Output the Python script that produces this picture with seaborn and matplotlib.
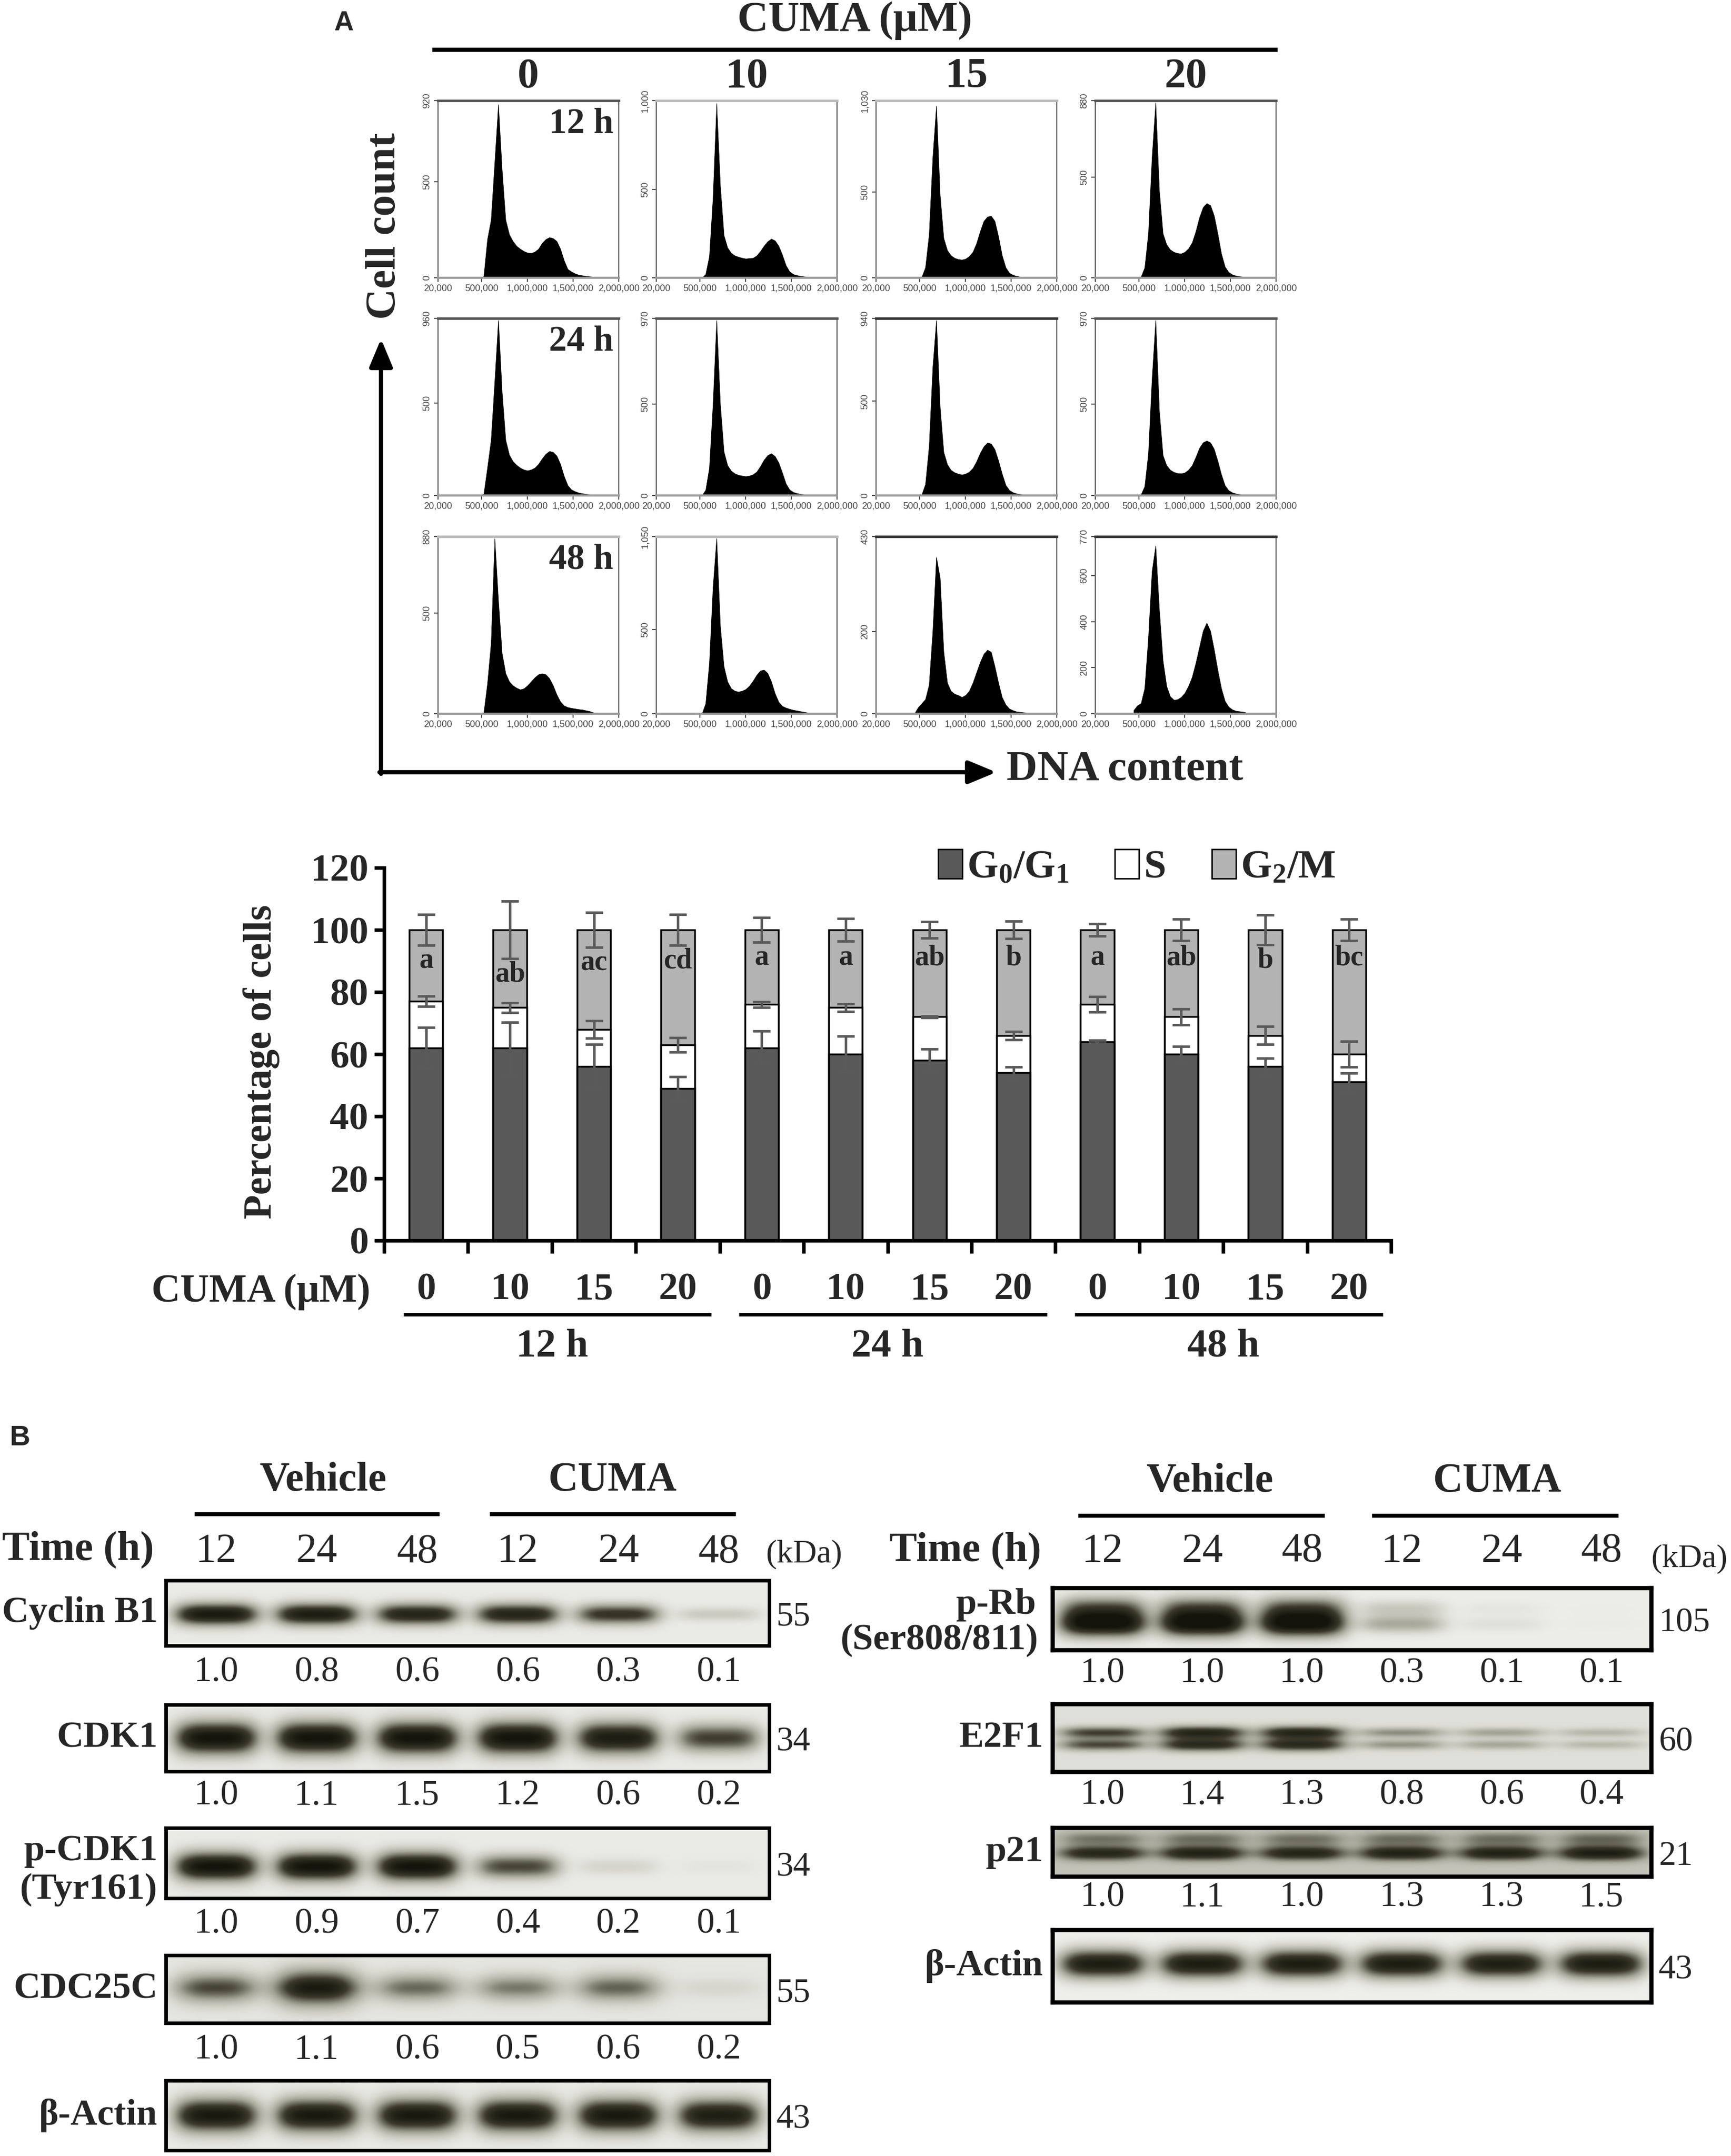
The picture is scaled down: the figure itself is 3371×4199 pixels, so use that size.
import numpy as np
import pandas as pd
import matplotlib
matplotlib.use("Agg")
import matplotlib.pyplot as plt
import matplotlib.transforms as mtransforms
from matplotlib.colors import LinearSegmentedColormap
from matplotlib.patches import Patch
import seaborn as sns

# ===================== DATA =====================
# ---- Panel A (top): DNA-content histograms ----
conc_levels = ["0", "10", "15", "20"]
hist_times = ["12 h", "24 h", "48 h"]
dna_bins = [440000, 480000, 520000, 560000, 600000, 640000, 680000, 720000,
            760000, 800000, 840000, 880000, 920000, 960000, 1000000, 1040000,
            1080000, 1120000, 1160000, 1200000, 1240000, 1280000, 1320000,
            1360000, 1400000, 1440000, 1480000, 1520000, 1560000, 1600000,
            1640000, 1680000, 1720000, 1760000, 1800000, 1840000, 1880000]

h12_c0 = [0, 0, 8, 200, 300, 600, 900, 560, 300, 225, 190, 165, 150, 138, 130, 128, 135, 150, 180, 200,
          210, 205, 190, 150, 90, 45, 32, 22, 15, 12, 9, 7, 5, 2, 0, 0, 0]
h12_c10 = [0, 0, 0, 20, 120, 450, 985, 520, 240, 170, 140, 125, 118, 112, 108, 110, 112, 125, 150, 180,
           205, 220, 210, 180, 130, 70, 35, 20, 14, 10, 7, 5, 3, 2, 0, 0, 0]
h12_c15 = [0, 0, 5, 60, 250, 700, 1000, 480, 230, 160, 130, 115, 108, 105, 110, 125, 150, 200, 270, 330,
           355, 360, 330, 240, 130, 60, 28, 16, 10, 6, 4, 3, 2, 0, 0, 0, 0]
h12_c20 = [0, 0, 5, 50, 220, 600, 870, 430, 220, 165, 140, 128, 122, 120, 128, 145, 175, 230, 300, 350,
           370, 360, 310, 220, 120, 55, 28, 16, 10, 7, 5, 3, 2, 0, 0, 0, 0]
h24_c0 = [0, 0, 8, 150, 300, 620, 950, 560, 300, 220, 185, 165, 150, 140, 135, 140, 150, 170, 200, 225,
          240, 235, 215, 170, 105, 55, 32, 22, 15, 11, 8, 6, 4, 2, 0, 0, 0]
h24_c10 = [0, 0, 0, 30, 150, 500, 960, 500, 240, 165, 135, 120, 112, 108, 105, 108, 115, 130, 160, 195,
           220, 230, 215, 180, 125, 65, 32, 18, 12, 8, 6, 4, 3, 1, 0, 0, 0]
h24_c15 = [0, 0, 5, 60, 260, 680, 930, 470, 230, 165, 135, 122, 115, 110, 115, 125, 145, 180, 225, 260,
           280, 275, 245, 185, 115, 55, 28, 16, 10, 7, 5, 3, 2, 0, 0, 0, 0]
h24_c20 = [0, 0, 5, 50, 230, 640, 960, 460, 220, 165, 140, 128, 122, 120, 125, 140, 165, 210, 260, 290,
           300, 290, 255, 190, 115, 55, 28, 16, 10, 7, 5, 3, 2, 0, 0, 0, 0]
h48_c0 = [0, 0, 5, 150, 350, 870, 560, 300, 200, 160, 140, 128, 120, 125, 140, 160, 180, 195, 200, 195,
          175, 140, 95, 60, 40, 32, 28, 25, 22, 20, 16, 12, 6, 2, 0, 0, 0]
h48_c10 = [0, 0, 0, 60, 300, 750, 1040, 520, 280, 190, 150, 135, 130, 135, 145, 165, 195, 230, 255, 260,
           240, 190, 120, 70, 45, 35, 28, 22, 18, 14, 10, 6, 3, 0, 0, 0, 0]
h48_c15 = [0, 15, 25, 35, 70, 200, 380, 330, 150, 75, 55, 48, 45, 40, 45, 55, 75, 100, 125, 145,
           155, 150, 115, 75, 40, 22, 12, 8, 5, 4, 3, 2, 0, 0, 0, 0, 0]
h48_c20 = [15, 35, 45, 110, 330, 620, 730, 450, 230, 120, 75, 60, 62, 72, 90, 120, 160, 220, 290, 360,
           395, 360, 280, 190, 110, 55, 30, 18, 12, 10, 8, 4, 2, 0, 0, 0, 0]

hist_ymax_12h = [920, 1000, 1030, 880]
hist_ymax_24h = [960, 970, 940, 970]
hist_ymax_48h = [880, 1050, 430, 770]
hist_midticks_12h = [[500], [500], [500], [500]]
hist_midticks_24h = [[500], [500], [500], [500]]
hist_midticks_48h = [[500], [500], [200], [200, 400, 600]]
hist_xticks = [20000, 500000, 1000000, 1500000, 2000000]

# ---- Panel A (bottom): cell-cycle distribution (%) ----
bar_conc = ["0", "10", "15", "20", "0", "10", "15", "20", "0", "10", "15", "20"]
bar_time_groups = ["12 h", "24 h", "48 h"]
g0g1 = [62, 62, 56, 49, 62, 60, 58, 54, 64, 60, 56, 51]
s_phase = [15, 13, 12, 14, 14, 15, 14, 12, 12, 12, 10, 9]
g2m = [23, 25, 32, 37, 24, 25, 28, 34, 24, 28, 34, 40]
err_g0g1 = [6.6, 8.3, 7.2, 3.7, 5.4, 5.8, 3.6, 1.8, 0.5, 2.5, 2.6, 2.9]
err_s = [1.7, 1.6, 2.8, 2.3, 0.9, 1.2, 0.3, 1.3, 2.5, 2.6, 2.9, 4.1]
err_g2m = [5.0, 9.3, 5.6, 5.0, 3.9, 3.6, 2.7, 2.8, 2.0, 3.5, 4.8, 3.4]
sig_letters = ["a", "ab", "ac", "cd", "a", "a", "ab", "b", "a", "ab", "b", "bc"]

# ---- Panel B: western blots ----
blot_groups = ["Vehicle", "CUMA"]
blot_times = ["12", "24", "48", "12", "24", "48"]
q_cyclinb1 = [1.0, 0.8, 0.6, 0.6, 0.3, 0.1]
q_cdk1 = [1.0, 1.1, 1.5, 1.2, 0.6, 0.2]
q_pcdk1 = [1.0, 0.9, 0.7, 0.4, 0.2, 0.1]
q_cdc25c = [1.0, 1.1, 0.6, 0.5, 0.6, 0.2]
q_prb = [1.0, 1.0, 1.0, 0.3, 0.1, 0.1]
q_e2f1 = [1.0, 1.4, 1.3, 0.8, 0.6, 0.4]
q_p21 = [1.0, 1.1, 1.0, 1.3, 1.3, 1.5]
band_cyclinb1 = [0.95, 0.92, 0.85, 0.85, 0.72, 0.15]
band_cdk1 = [1.0, 1.0, 1.0, 1.0, 0.92, 0.65]
band_pcdk1 = [1.0, 1.0, 1.0, 0.62, 0.1, 0.03]
band_cdc25c = [0.62, 0.95, 0.5, 0.45, 0.52, 0.08]
band_actin_l = [0.95, 0.95, 0.95, 0.95, 0.95, 0.9]
band_prb = [1.0, 1.0, 1.0, 0.3, 0.06, 0.01]
band_e2f1 = [0.7, 0.92, 0.92, 0.4, 0.32, 0.22]
band_p21 = [0.8, 0.85, 0.82, 0.85, 0.85, 0.9]
band_actin_r = [0.92, 0.92, 0.92, 0.92, 0.9, 0.92]
kda_left = ["55", "34", "34", "55", "43"]
kda_right = ["105", "60", "21", "43"]

# ===================== STYLE / FIGURE =====================
sns.set_theme(style="ticks")
plt.rcParams["font.family"] = ["Liberation Serif", "DejaVu Serif"]
plt.rcParams["mathtext.default"] = "regular"

W, H = 3371, 4199
fig = plt.figure(figsize=(W / 100, H / 100), dpi=100)
fig.patch.set_facecolor("white")


def rect(x, y, w, h):
    return [x / W, 1 - (y + h) / H, w / W, h / H]


ov = fig.add_axes([0, 0, 1, 1], zorder=20)
ov.set_xlim(0, W)
ov.set_ylim(H, 0)
ov.axis("off")
ov.patch.set_alpha(0)


def T(x, y, s, size, bold=True, ha="center", va="center", **kw):
    ov.text(x, y, s, fontsize=size, fontweight="bold" if bold else "normal",
            ha=ha, va=va, **kw)


def HL(x0, x1, y, lw=5.5):
    ov.plot([x0, x1], [y, y], color="black", lw=lw, solid_capstyle="butt")


# ===================== PANEL A: histograms =====================
ov.text(670, 45, "A", fontsize=38, fontweight="bold", family="Liberation Sans",
        ha="center", va="center")
T(1665, 40, "CUMA (μM)", 60)
HL(842, 2488, 97, lw=6)

col_left = [853, 1278, 1706, 2133]
row_top = [196, 620, 1045]
hist_w, hist_h = 352, 345
for c in range(4):
    T(col_left[c] + hist_w / 2, 150, conc_levels[c], 60)

hist_rows = [[h12_c0, h12_c10, h12_c15, h12_c20],
             [h24_c0, h24_c10, h24_c15, h24_c20],
             [h48_c0, h48_c10, h48_c15, h48_c20]]
ymax_rows = [hist_ymax_12h, hist_ymax_24h, hist_ymax_48h]
mid_rows = [hist_midticks_12h, hist_midticks_24h, hist_midticks_48h]
top_colors = [["#555555", "#bbbbbb", "#bbbbbb", "#555555"],
              ["#555555", "#555555", "#333333", "#555555"],
              ["#bbbbbb", "#bbbbbb", "#333333", "#333333"]]
edges = [b - 20000 for b in dna_bins] + [dna_bins[-1] + 20000]

for r in range(3):
    for c in range(4):
        ax = fig.add_axes(rect(col_left[c], row_top[r], hist_w, hist_h))
        df = pd.DataFrame({"dna": dna_bins, "count": hist_rows[r][c]})
        sns.histplot(data=df, x="dna", weights="count", bins=edges, element="poly",
                     fill=True, color="black", alpha=1.0, linewidth=0.6, ax=ax)
        ymax = ymax_rows[r][c]
        ax.set_xlim(20000, 2000000)
        ax.set_ylim(0, ymax)
        ax.set_xticks(hist_xticks)
        ax.set_xticklabels([f"{v:,}" for v in hist_xticks], family="Liberation Sans",
                           fontsize=13, color="#444444")
        yt = [0] + mid_rows[r][c] + [ymax]
        ax.set_yticks(yt)
        ax.set_yticklabels([f"{v:,}" for v in yt], rotation=90, va="center",
                           family="Liberation Sans", fontsize=13, color="#444444")
        ax.tick_params(length=6, width=1.4, color="#444444", pad=3)
        ax.set_xlabel("")
        ax.set_ylabel("")
        for side in ["left", "right"]:
            ax.spines[side].set_color("#555555")
            ax.spines[side].set_linewidth(1.5)
        ax.spines["top"].set_color(top_colors[r][c])
        ax.spines["top"].set_linewidth(3.5)
        ax.spines["bottom"].set_color("#999999")
        ax.spines["bottom"].set_linewidth(3)
        if c == 0:
            ax.text(0.97, 0.96, hist_times[r], transform=ax.transAxes, ha="right",
                    va="top", fontsize=50, fontweight="bold")

# axis arrows
arrow_kw = dict(arrowstyle="-|>,head_length=0.6,head_width=0.25", lw=6,
                color="black", mutation_scale=55, shrinkA=0, shrinkB=0)
ov.annotate("", xy=(742, 660), xytext=(742, 1507), arrowprops=arrow_kw)
ov.annotate("", xy=(1940, 1504), xytext=(739, 1504), arrowprops=arrow_kw)
T(750, 440, "Cell count", 60, rotation=90)
T(1960, 1499, "DNA content", 60, ha="left")

# ===================== PANEL A: stacked bars =====================
c_g0 = "#595959"
c_g2 = "#b3b3b3"
axb = fig.add_axes(rect(748, 1690, 1961, 726))
bdf = pd.DataFrame({"pos": list(range(12)), "g0": g0g1, "s": s_phase, "g2": g2m})
bdf["s_top"] = bdf["g0"] + bdf["s"]
bdf["total"] = bdf["s_top"] + bdf["g2"]
bar_kw = dict(x="pos", width=0.4, edgecolor="black", linewidth=2.5,
              errorbar=None, saturation=1, ax=axb)
sns.barplot(data=bdf, y="total", color=c_g2, **bar_kw)
sns.barplot(data=bdf, y="s_top", color="white", **bar_kw)
sns.barplot(data=bdf, y="g0", color=c_g0, **bar_kw)

pos = np.arange(12)
eb_kw = dict(fmt="none", ecolor="#5a5a5a", elinewidth=3.5, capsize=12,
             capthick=3.5, zorder=5)
axb.errorbar(pos, bdf["g0"], yerr=err_g0g1, **eb_kw)
axb.errorbar(pos, bdf["s_top"], yerr=err_s, **eb_kw)
axb.errorbar(pos, bdf["total"], yerr=err_g2m, **eb_kw)

for i, lab in enumerate(sig_letters):
    ypos = min(91, 100 - err_g2m[i] - 5)
    axb.text(i, ypos, lab, ha="center", va="center", fontsize=40,
             fontweight="bold", zorder=6)

axb.set_xlim(-0.5, 11.5)
axb.set_ylim(0, 120)
axb.set_xticks(range(12))
axb.set_xticklabels(bar_conc, fontsize=54, fontweight="bold")
axb.set_xticks(np.arange(-0.5, 12, 1), minor=True)
axb.tick_params(axis="x", which="major", length=0, pad=45)
axb.tick_params(axis="x", which="minor", length=18, width=5, direction="out",
                color="black")
axb.set_yticks(range(0, 121, 20))
axb.set_yticklabels([str(v) for v in range(0, 121, 20)], fontsize=54,
                    fontweight="bold")
axb.tick_params(axis="y", length=14, width=5, pad=8, color="black")
axb.set_xlabel("")
axb.set_ylabel("")
axb.spines["top"].set_visible(False)
axb.spines["right"].set_visible(False)
for side in ["left", "bottom"]:
    axb.spines[side].set_linewidth(5)
    axb.spines[side].set_color("black")

handles = [Patch(facecolor=c_g0, edgecolor="black", linewidth=2),
           Patch(facecolor="white", edgecolor="black", linewidth=2),
           Patch(facecolor=c_g2, edgecolor="black", linewidth=2)]
axb.legend(handles, ["G$_0$/G$_1$", "S", "G$_2$/M"], loc="center right",
           bbox_to_anchor=(0.945, 1.0), ncol=3, frameon=False,
           prop=dict(weight="bold", size=56, family="Liberation Serif"),
           handlelength=0.6, handleheight=0.75, handletextpad=0.12,
           columnspacing=1.15, borderpad=0, borderaxespad=0)

blend = mtransforms.blended_transform_factory(axb.transData, ov.transData)
for g in range(3):
    axb.plot([4 * g - 0.27, 4 * g + 3.4], [2560, 2560], transform=blend,
             clip_on=False, color="black", lw=5, solid_capstyle="butt")
    axb.text(4 * g + 1.5, 2623, bar_time_groups[g], transform=blend,
             ha="center", va="center", fontsize=56, fontweight="bold")
T(508, 2516, "CUMA (μM)", 56)
T(509, 2068, "Percentage of cells", 56, rotation=90)

# ===================== PANEL B: western blots =====================
blot_cmap = LinearSegmentedColormap.from_list(
    "blot", ["#f2f2ee", "#a5a598", "#3b3a2c", "#15140c"])


def draw_blot(x0, y0, x1, y1, levels, bg, subbands, hw=0.41, sharp=4,
              vexp=2.0, lw=5):
    ax = fig.add_axes(rect(x0, y0, x1 - x0, y1 - y0))
    nx = 600
    ny = max(40, int(nx * (y1 - y0) / (x1 - x0)))
    xs = np.linspace(-0.5, 5.5, nx)
    ys = np.linspace(0, 1, ny)
    dark = np.zeros((ny, nx))
    for i, lv in enumerate(levels):
        prof_x = np.exp(-np.abs((xs - i) / hw) ** sharp)
        prof_y = np.zeros(ny)
        for cy, hh, wt in subbands:
            prof_y += wt * np.exp(-np.abs((ys - cy) / (hh * (0.55 + 0.45 * lv))) ** vexp)
        dark += lv * np.outer(prof_y, prof_x)
    img = bg + (1 - bg) * np.clip(dark, 0, 1)
    ax.imshow(img, cmap=blot_cmap, vmin=0, vmax=1, aspect="auto",
              extent=(-0.5, 5.5, 1, 0), interpolation="bilinear")
    ax.set_xticks([])
    ax.set_yticks([])
    for s in ax.spines.values():
        s.set_visible(True)
        s.set_linewidth(lw)
        s.set_color("black")
    return ax


def lane_x(x0, x1, i):
    return x0 + (i + 0.5) / 6 * (x1 - x0)


ov.text(38, 2801, "B", fontsize=40, fontweight="bold", family="Liberation Sans",
        ha="center", va="center")

# ---- left blot panel ----
LX0, LX1 = 323, 1498
T(629, 2884, blot_groups[0], 58)
HL(379, 856, 2949)
T(1192, 2884, blot_groups[1], 58)
HL(954, 1433, 2949)
T(4, 3018, "Time (h)", 58, ha="left")
for i, t in enumerate(blot_times):
    T(lane_x(LX0, LX1, i), 3023, t, 58, bold=False)
T(1566, 3027, "(kDa)", 46, bold=False)

left_rows = [
    (3078, 3205, band_cyclinb1, q_cyclinb1, 0.03, [(0.52, 0.17, 1.0)], 4, 2.0, 3258),
    (3320, 3450, band_cdk1, q_cdk1, 0.03, [(0.5, 0.24, 1.0)], 4, 2.0, 3498),
    (3560, 3697, band_pcdk1, q_pcdk1, 0.03, [(0.55, 0.2, 1.0)], 4, 2.0, 3748),
    (3808, 3940, band_cdc25c, q_cdc25c, 0.05, [(0.48, 0.25, 1.0)], 3, 1.8, 3993),
    (4052, 4188, band_actin_l, None, 0.03, [(0.5, 0.24, 1.0)], 4, 2.0, None),
]
left_names = ["Cyclin B1", "CDK1", None, "CDC25C", "β-Actin"]
for k, (y0, y1, lv, q, bg, sb, shp, vex, qy) in enumerate(left_rows):
    draw_blot(LX0, y0, LX1, y1, lv, bg, sb, sharp=shp, vexp=vex, lw=5)
    yc = (y0 + y1) / 2
    if left_names[k] is not None:
        T(LX0 - 16, yc, left_names[k], 52, ha="right")
    else:
        T(LX0 - 16, 3605, "p-CDK1", 52, ha="right")
        T(LX0 - 16, 3680, "(Tyr161)", 52, ha="right")
    T(LX1 + 14, yc + 8, kda_left[k], 48, bold=False, ha="left")
    if q is not None:
        for i, v in enumerate(q):
            T(lane_x(LX0, LX1, i), qy, f"{v:.1f}", 50, bold=False)

# ---- right blot panel ----
RX0, RX1 = 2050, 3216
T(2356, 2885, blot_groups[0], 58)
HL(2100, 2580, 2952)
T(2915, 2885, blot_groups[1], 58)
HL(2672, 3152, 2952)
T(1732, 3020, "Time (h)", 58, ha="left")
for i, t in enumerate(blot_times):
    T(lane_x(RX0, RX1, i), 3022, t, 58, bold=False)
T(3290, 3036, "(kDa)", 46, bold=False)

right_rows = [
    (3093, 3214, band_prb, q_prb, 0.02, [(0.58, 0.2, 1.0), (0.33, 0.2, 0.55)], 4, 2.0, 3260),
    (3319, 3451, band_e2f1, q_e2f1, 0.08, [(0.42, 0.1, 0.9), (0.6, 0.1, 0.85)], 3.5, 2.0, 3497),
    (3560, 3655, band_p21, q_p21, 0.2, [(0.52, 0.16, 1.0), (0.22, 0.16, 0.45)], 3.5, 2.0, 3696),
    (3759, 3900, band_actin_r, None, 0.01, [(0.47, 0.2, 1.0)], 4, 2.0, None),
]
right_names = [None, "E2F1", "p21", "β-Actin"]
for k, (y0, y1, lv, q, bg, sb, shp, vex, qy) in enumerate(right_rows):
    draw_blot(RX0, y0, RX1, y1, lv, bg, sb, hw=0.43, sharp=shp, vexp=vex, lw=6)
    yc = (y0 + y1) / 2
    if right_names[k] is not None:
        T(RX0 - 18, yc, right_names[k], 52, ha="right")
    else:
        T(RX0 - 32, 3125, "p-Rb", 52, ha="right")
        T(RX0 - 28, 3194, "(Ser808/811)", 52, ha="right")
    T(RX1 + 14, yc + 8, kda_right[k], 48, bold=False, ha="left")
    if q is not None:
        for i, v in enumerate(q):
            T(lane_x(RX0, RX1, i), qy, f"{v:.1f}", 50, bold=False)

fig.savefig("out.png", dpi=100, facecolor="white")
